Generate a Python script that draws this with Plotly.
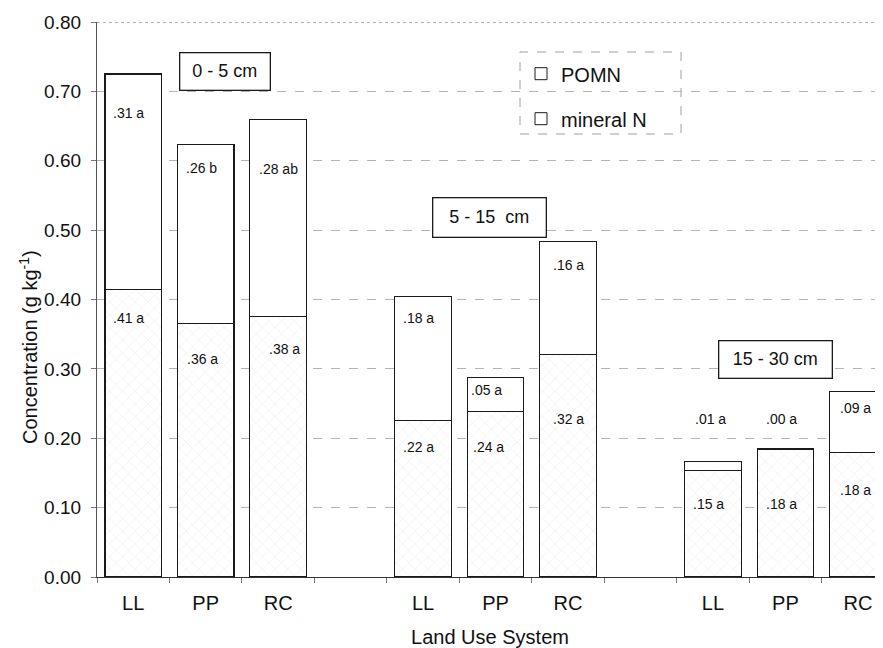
import plotly.graph_objects as go

# ---------------- data ----------------
categories = ["LL", "PP", "RC", "", "LL", "PP", "RC", "", "LL", "PP", "RC"]
depths = ["0 - 5 cm", "5 - 15\u00a0 cm", "15 - 30 cm"]
mineral_n = [0.415, 0.365, 0.375, None, 0.226, 0.238, 0.321, None, 0.153, 0.1845, 0.179]
pomn = [0.310, 0.258, 0.284, None, 0.178, 0.050, 0.163, None, 0.013, 0.0, 0.089]
mineral_labels = [".41 a", ".36 a", ".38 a", "", ".22 a", ".24 a", ".32 a", "", ".15 a", ".18 a", ".18 a"]
pomn_labels = [".31 a", ".26 b", ".28 ab", "", ".18 a", ".05 a", ".16 a", "", ".01 a", ".00 a", ".09 a"]
y_ticks = [0.0, 0.1, 0.2, 0.3, 0.4, 0.5, 0.6, 0.7, 0.8]

# ---------------- label placement (layout only) ----------------
mineral_label_y = [0.373, 0.314, 0.329, None, 0.187, 0.187, 0.228, None, 0.105, 0.105, 0.125]
mineral_label_dx = [-0.06, -0.04, 0.09, 0, -0.07, -0.10, 0.01, 0, -0.06, -0.06, -0.04]
pomn_label_y = [0.669, 0.590, 0.588, None, 0.373, 0.270, 0.450, None, 0.228, 0.228, 0.244]
pomn_label_dx = [-0.06, -0.055, 0.01, 0, -0.07, -0.12, 0.01, 0, -0.04, -0.06, -0.04]
depth_x = [1.27, 4.91, 8.86]
depth_y = [0.729, 0.518, 0.314]
depth_w = [73, 96, 96]
depth_h = [20, 22, 20]

xpos = list(range(len(categories)))
FONT = "Arial, Liberation Sans, sans-serif"

# the page body adds an 8px margin, so the figure is sized to fit the 883x648 window
FIG_W, FIG_H = 875, 640
M_L, M_R, M_T, M_B = 89, 0, 14, 71
PW = FIG_W - M_L - M_R
PH = FIG_H - M_T - M_B

fig = go.Figure()

fig.add_trace(go.Bar(
    x=xpos, y=mineral_n, name="mineral N", width=0.78, showlegend=False,
    marker=dict(color="white", line=dict(color="#1a1a1a", width=1.1),
                pattern=dict(shape="x", fgcolor="#d2d2d2", size=9, solidity=0.1)),
))
fig.add_trace(go.Bar(
    x=xpos, y=pomn, name="POMN", width=0.78, showlegend=False,
    marker=dict(color="white", line=dict(color="#1a1a1a", width=1.1)),
))
# legend entries (plain white squares as in the original)
for nm in ["POMN", "mineral N"]:
    fig.add_trace(go.Bar(
        x=[None], y=[None], name=nm, legendgroup=nm, showlegend=True,
        marker=dict(color="white", line=dict(color="#1a1a1a", width=1)),
    ))

annotations = []
for i in xpos:
    if mineral_labels[i]:
        annotations.append(dict(x=i + mineral_label_dx[i], y=mineral_label_y[i], text=mineral_labels[i],
                                showarrow=False, font=dict(size=14, color="#111", family=FONT)))
    if pomn_labels[i]:
        annotations.append(dict(x=i + pomn_label_dx[i], y=pomn_label_y[i], text=pomn_labels[i],
                                showarrow=False, font=dict(size=14, color="#111", family=FONT)))
for d, dx, dy, w, h in zip(depths, depth_x, depth_y, depth_w, depth_h):
    annotations.append(dict(x=dx, y=dy, text=d, showarrow=False, width=w, height=h,
                            font=dict(size=18, color="#111", family=FONT),
                            bgcolor="white", bordercolor="#1a1a1a", borderwidth=1.3,
                            borderpad=8))
# y-axis title
annotations.append(dict(xref="paper", yref="paper", x=(20 - M_L) / PW, y=1 - (339 - M_T) / PH,
                        xanchor="center", yanchor="middle",
                        text="Concentration (g kg<sup>-1</sup>)", textangle=-90,
                        showarrow=False, font=dict(size=20, color="#111", family=FONT)))

fig.update_layout(
    width=FIG_W, height=FIG_H,
    margin=dict(l=M_L, r=M_R, t=M_T, b=M_B),
    paper_bgcolor="white", plot_bgcolor="white",
    barmode="stack", bargap=0.2,
    font=dict(family=FONT, color="#111"),
    annotations=annotations,
    legend=dict(x=(521 - 97) / 786, y=0.942, xanchor="left", yanchor="top",
                traceorder="grouped", tracegroupgap=16,
                bgcolor="rgba(0,0,0,0)", font=dict(size=20, color="#111", family=FONT)),
    shapes=[
        dict(type="rect", xref="paper", yref="paper",
             x0=(520 - 97) / 786, x1=(681 - 97) / 786,
             y0=1 - (134 - 22) / 555, y1=1 - (52 - 22) / 555,
             line=dict(color="#a0a0a0", width=1, dash="dash"), fillcolor="white", layer="below"),
        dict(type="line", xref="paper", yref="y", x0=0, x1=1, y0=0.8, y1=0.8,
             line=dict(color="#666", width=1.2, dash="dot")),
    ],
)

fig.update_xaxes(
    range=[-0.5, 10.346], tickmode="array", tickvals=[i for i in xpos if categories[i]],
    ticktext=[c for c in categories if c], ticks="", showgrid=False,
    showline=True, linecolor="#333", linewidth=1.2,
    tickfont=dict(size=20, family=FONT, color="#111"), ticklabelstandoff=8,
    minor=dict(tickmode="linear", tick0=-0.5, dtick=1, ticks="outside", ticklen=5,
               tickcolor="#777", showgrid=False),
    title=dict(text="Land Use System", font=dict(size=20, family=FONT, color="#111"), standoff=16),
    zeroline=False,
)
fig.update_yaxes(
    range=[0, 0.8], tickmode="array", tickvals=y_ticks, tickformat=".2f",
    ticks="outside", ticklen=5, tickcolor="#777",
    showline=True, linecolor="#555", linewidth=1.2,
    showgrid=True, gridcolor="#b4b4b4", griddash="dash", gridwidth=1,
    tickfont=dict(size=19, family=FONT, color="#111"), ticklabelstandoff=6,
    zeroline=False,
)

fig.write_html("out.html")
